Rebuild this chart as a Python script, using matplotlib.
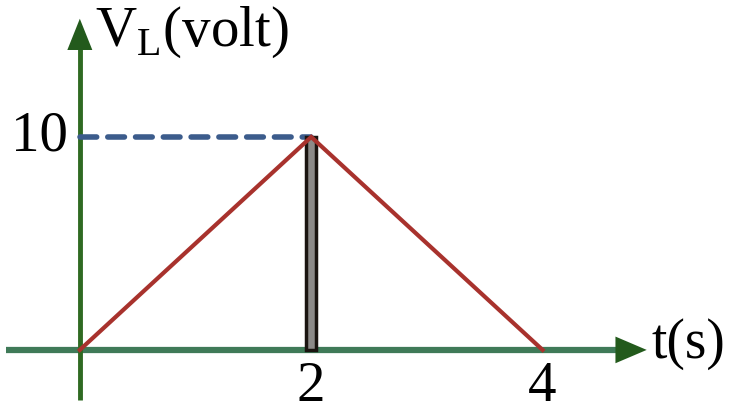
import matplotlib.pyplot as plt

plt.rcParams["font.family"] = ["Liberation Serif", "DejaVu Serif"]
plt.rcParams["mathtext.fontset"] = "custom"
plt.rcParams["mathtext.rm"] = "Liberation Serif"

# data
t = [0, 2, 4]
v_l = [0, 10, 0]
peak_t = 2
peak_v = 10
x_ticks = [2, 4]
y_ticks = [10]

RED = "#a8322d"
GREEN = "#2f6a22"
HEAD = "#235a1c"
AXIS = "#3f7a58"
DASH = "#3c5c8c"

fig = plt.figure(figsize=(7.3, 4.17), dpi=100)
ax = fig.add_axes([0, 0, 1, 1])
ax.set_xlim(-0.69, 5.62)
ax.set_ylim(-3.15, 16.43)
ax.axis("off")

# axes lines, then dark arrow heads
ax.plot([-0.64, 4.7], [0, 0], lw=4.5, color=AXIS, solid_capstyle="butt", zorder=1)
ax.plot([0, 0], [-2.35, 14.5], lw=3.5, color=GREEN, solid_capstyle="butt", zorder=1)
ax.annotate("", xy=(4.9, 0), xytext=(4.5, 0),
            arrowprops=dict(arrowstyle="-|>,head_length=0.75,head_width=0.32",
                            mutation_scale=30, lw=0, color=HEAD,
                            shrinkA=0, shrinkB=0))
ax.annotate("", xy=(0, 15.55), xytext=(0, 13.5),
            arrowprops=dict(arrowstyle="-|>,head_length=0.75,head_width=0.3",
                            mutation_scale=30, lw=0, color=HEAD,
                            shrinkA=0, shrinkB=0))

# dashed guide at peak
ax.plot([0, peak_t], [peak_v, peak_v], ls=(0, (3, 2)), lw=4, color=DASH,
        dash_capstyle="round", zorder=2)

# grey bar at t=2
ax.bar([peak_t], [peak_v], width=0.085, color="#8c8a88", edgecolor="#1a1410",
       linewidth=2.5, zorder=3)

# triangular voltage
ax.plot(t, v_l, color=RED, lw=3, zorder=4, solid_joinstyle="miter")

# labels
for xt in x_ticks:
    ax.text(xt, -1.75, str(xt), ha="center", va="center", fontsize=41)
for yt in y_ticks:
    ax.text(-0.1, yt, str(yt), ha="right", va="center", fontsize=41)

ax.text(5.26, 0.3, "t(s)", ha="center", va="center", fontsize=40)
ax.text(0.13, 14.9, r"V$_{\mathrm{L}}$(volt)", ha="left", va="center", fontsize=41)

fig.savefig("out.png", dpi=100)
